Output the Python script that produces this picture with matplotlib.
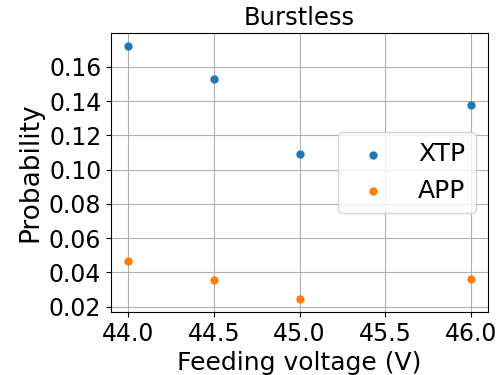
import matplotlib.pyplot as plt
from matplotlib.ticker import MultipleLocator

# Данные
voltage = [44.0, 44.5, 45.0, 46.0]
xtp = [0.1723, 0.1528, 0.1092, 0.1375]
app = [0.0464, 0.0353, 0.0243, 0.0361]

fig, ax = plt.subplots(figsize=(4.98, 3.75), dpi=100)

ax.scatter(voltage, xtp, s=25, color='tab:blue', label='XTP', zorder=3)
ax.scatter(voltage, app, s=25, color='tab:orange', label='APP', zorder=3)

ax.set_title('Burstless', fontsize=17.5)
ax.set_xlabel('Feeding voltage (V)', fontsize=18)
ax.set_ylabel('Probability', fontsize=19)
ax.tick_params(labelsize=17)
ax.yaxis.set_major_locator(MultipleLocator(0.02))
ax.grid(True)
ax.legend(loc='center right', fontsize=18)

fig.subplots_adjust(left=0.223, right=0.98, top=0.912, bottom=0.168)
fig.savefig('out.png')
